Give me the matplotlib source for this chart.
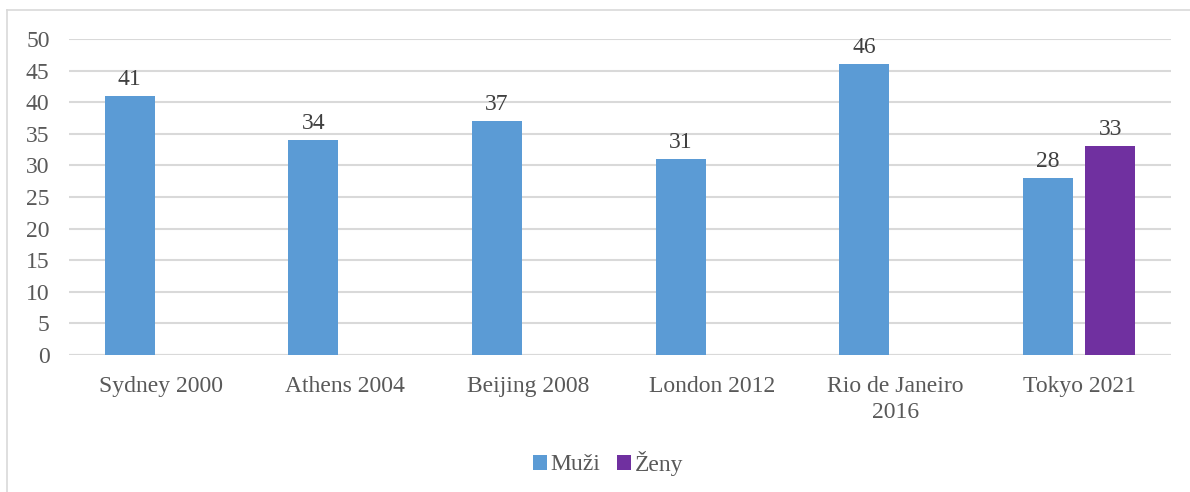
import matplotlib.pyplot as plt
import numpy as np
from matplotlib.lines import Line2D

categories = ["Sydney 2000", "Athens 2004", "Beijing 2008", "London 2012",
              "Rio de Janeiro\n2016", "Tokyo 2021"]
muzi = [41, 34, 37, 31, 46, 28]
zeny = [None, None, None, None, None, 33]

plt.rcParams['font.family'] = ['Liberation Serif', 'DejaVu Serif']
text_color = '#595959'
fs = 17

fig = plt.figure(figsize=(11.9, 4.92), dpi=100)
ax = fig.add_axes([0.058, 0.2785, 0.926, 0.6422])

x = np.arange(len(categories))
w = 0.272
off = 0.169

bars_m = ax.bar(x - off, muzi, w, color='#5B9BD5', label='Muži', zorder=3)
zx = [xi + off for xi, v in zip(x, zeny) if v is not None]
zv = [v for v in zeny if v is not None]
bars_z = ax.bar(zx, zv, w, color='#7030A0', label='Ženy', zorder=3)

for b in list(bars_m) + list(bars_z):
    ax.text(b.get_x() + b.get_width() / 2, b.get_height() + 1.0,
            f"{int(b.get_height())}", ha='center', va='bottom',
            fontsize=fs, color='#404040')

ax.set_xlim(-0.5, len(categories) - 0.5)
ax.set_ylim(0, 50)
ax.set_yticks(range(0, 51, 5))
ax.yaxis.grid(True, color='#d9d9d9', linewidth=1.5, zorder=0)
ax.set_axisbelow(True)
for s in ax.spines.values():
    s.set_visible(False)
ax.axhline(0, color='#d9d9d9', linewidth=1.5, zorder=1)
ax.set_xticks(x)
ax.set_xticklabels(categories, linespacing=1.35)
ax.tick_params(axis='both', length=0, labelsize=fs, colors=text_color)
ax.tick_params(axis='y', pad=14)
ax.tick_params(axis='x', pad=15)

fig.legend(handles=[bars_m, bars_z], labels=['Muži', 'Ženy'],
           loc='center', bbox_to_anchor=(608 / 1190, 1 - 463 / 492),
           ncol=2, frameon=False, fontsize=fs, labelcolor=text_color,
           handlelength=0.6, handleheight=0.6, handletextpad=0.15,
           columnspacing=0.7)

# chart border (left and top visible)
fig.add_artist(Line2D([7 / 1190, 7 / 1190], [0, 1 - 10 / 492],
                      color='#d9d9d9', linewidth=1.2))
fig.add_artist(Line2D([7 / 1190, 1], [1 - 10 / 492, 1 - 10 / 492],
                      color='#d9d9d9', linewidth=1.2))

fig.savefig('out.png', dpi=100)
